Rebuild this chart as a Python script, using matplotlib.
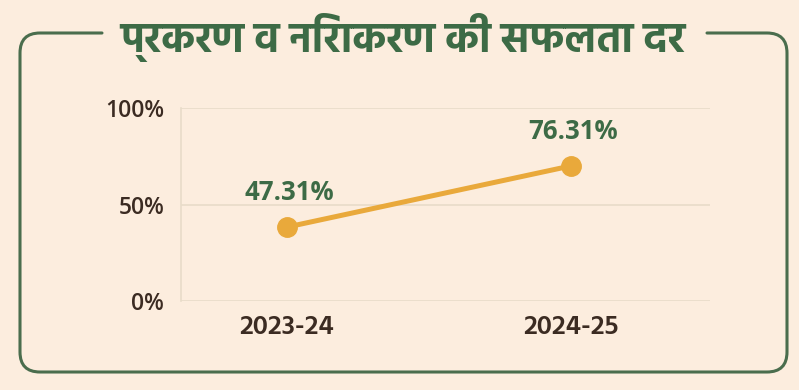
import matplotlib
matplotlib.use("Agg")
import matplotlib.pyplot as plt
from matplotlib.path import Path
from matplotlib.patches import PathPatch

# data
years = ["2023-24", "2024-25"]
rate_labels = [47.31, 76.31]      # values printed on the chart
rate_drawn = [38.3, 70.0]         # where the points sit in the source picture
yticks = [0, 50, 100]
title = "प्रकरण व निराकरण की सफलता दर"

bg = "#fcedde"
green = "#3d6b46"
brown = "#3b2b22"
gold = "#e9a93b"
grid = "#e8dcc9"

W, H = 799, 390
fig = plt.figure(figsize=(W / 100, H / 100), dpi=100, facecolor=bg)

# frame + title in pixel coords
deco = fig.add_axes([0, 0, 1, 1], zorder=0)
deco.set_xlim(0, W)
deco.set_ylim(H, 0)
deco.axis("off")
L, R, T, B, r = 20, 787, 33, 372, 20
verts = [(102, T), (L + r, T), (L, T), (L, T + r), (L, B - r), (L, B), (L + r, B),
         (R - r, B), (R, B), (R, B - r), (R, T + r), (R, T), (R - r, T), (707, T)]
codes = [Path.MOVETO, Path.LINETO, Path.CURVE3, Path.CURVE3, Path.LINETO, Path.CURVE3, Path.CURVE3,
         Path.LINETO, Path.CURVE3, Path.CURVE3, Path.LINETO, Path.CURVE3, Path.CURVE3, Path.LINETO]
deco.add_patch(PathPatch(Path(verts, codes), fill=False, edgecolor="#4a6d4d", lw=2.2, capstyle="round"))
deco.text(403, 52, title, family=["Hind", "DejaVu Sans"], weight="bold", fontsize=30,
          color=green, ha="center", va="baseline")

ax = fig.add_axes([181 / W, 1 - 301 / H, 529 / W, 193 / H], zorder=1)
ax.patch.set_alpha(0)
x = list(range(len(years)))
ax.plot(x, rate_drawn, color=gold, lw=3.6, marker="o", ms=14, solid_capstyle="round")
for xi, yv, lab in zip(x, rate_drawn, rate_labels):
    ax.annotate(f"{lab:.2f}%", (xi, yv), xytext=(1.5, 25), textcoords="offset points",
                ha="center", va="center", fontsize=18.5, weight="bold", color=green,
                family=["Open Sans", "DejaVu Sans"])

ax.set_xlim(-0.373, 1.489)
ax.set_ylim(0, 100)
ax.set_yticks(yticks)
ax.set_yticklabels([f"{v}%" for v in yticks])
ax.set_xticks(x)
ax.set_xticklabels(years)
for s in ["top", "right", "bottom"]:
    ax.spines[s].set_visible(False)
ax.spines["left"].set_color(grid)
ax.spines["left"].set_linewidth(1.2)
ax.grid(axis="y", color=grid, lw=1.2)
ax.set_axisbelow(True)
ax.tick_params(length=0)
ax.tick_params(axis="y", pad=12, labelsize=16.5, labelcolor=brown)
ax.tick_params(axis="x", pad=10, labelsize=20, labelcolor=brown)
for t in ax.get_yticklabels():
    t.set_family(["Open Sans", "DejaVu Sans"])
    t.set_weight("semibold")
for t in ax.get_xticklabels():
    t.set_family(["Hind", "DejaVu Sans"])
    t.set_weight("semibold")

fig.savefig("out.png", dpi=100, facecolor=bg)
